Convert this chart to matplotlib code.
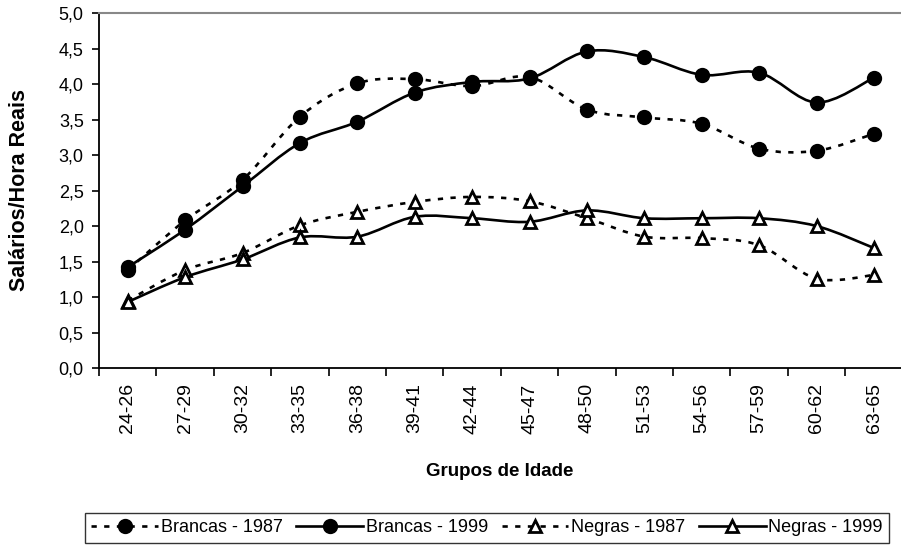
import numpy as np
import matplotlib
matplotlib.use("Agg")
import matplotlib.pyplot as plt
from matplotlib.path import Path
from matplotlib.patches import PathPatch
from matplotlib.lines import Line2D

plt.rcParams['font.family'] = ['Liberation Sans', 'DejaVu Sans']

grupos = ["24-26", "27-29", "30-32", "33-35", "36-38", "39-41", "42-44",
          "45-47", "48-50", "51-53", "54-56", "57-59", "60-62", "63-65"]
brancas_1987 = [1.38, 2.08, 2.65, 3.54, 4.01, 4.07, 3.97, 4.10, 3.64, 3.53, 3.44, 3.09, 3.06, 3.30]
brancas_1999 = [1.42, 1.95, 2.56, 3.17, 3.47, 3.88, 4.03, 4.08, 4.46, 4.38, 4.13, 4.16, 3.74, 4.09]
negras_1987 = [0.95, 1.38, 1.62, 2.01, 2.20, 2.34, 2.41, 2.35, 2.11, 1.85, 1.83, 1.73, 1.26, 1.31]
negras_1999 = [0.93, 1.28, 1.53, 1.84, 1.85, 2.13, 2.11, 2.06, 2.22, 2.11, 2.11, 2.11, 2.00, 1.69]


def smooth_path(x, y):
    # cubic bezier through every point (catmull-rom style tangents)
    p = np.column_stack([x, y]).astype(float)
    ext = np.vstack([p[0], p, p[-1]])
    verts = [p[0]]
    codes = [Path.MOVETO]
    for i in range(len(p) - 1):
        p0, p1, p2, p3 = ext[i], ext[i + 1], ext[i + 2], ext[i + 3]
        c1 = p1 + (p2 - p0) / 6.0
        c2 = p2 - (p3 - p1) / 6.0
        verts += [c1, c2, p2]
        codes += [Path.CURVE4] * 3
    return Path(verts, codes)


fig = plt.figure(figsize=(9.01, 5.46), dpi=100)
ax = fig.add_axes([0.1099, 0.326, 0.892, 0.65])

x = np.arange(len(grupos))
dotted = (0, (2.0, 2.8))
lw = 1.9
series = [
    (brancas_1987, dotted, 'o', 'black', "Brancas - 1987"),
    (brancas_1999, '-', 'o', 'black', "Brancas - 1999"),
    (negras_1987, dotted, '^', 'white', "Negras - 1987"),
    (negras_1999, '-', '^', 'white', "Negras - 1999"),
]
handles = []
for vals, ls, mk, fc, lab in series:
    patch = PathPatch(smooth_path(x, vals), facecolor='none', edgecolor='black',
                      linewidth=lw, linestyle=ls, zorder=2)
    ax.add_patch(patch)
    ax.plot(x, vals, linestyle='none', marker=mk, markersize=9,
            markerfacecolor=fc, markeredgecolor='black', markeredgewidth=2, zorder=3)
    handles.append(Line2D([], [], color='black', linewidth=lw, linestyle=ls, marker=mk,
                          markersize=9, markerfacecolor=fc, markeredgecolor='black',
                          markeredgewidth=2, label=lab))

ax.set_xlim(-0.5, len(grupos) - 0.5)
ax.set_ylim(0, 5)
yt = np.arange(0, 5.01, 0.5)
ax.set_yticks(yt)
ax.set_yticklabels([f"{v:.1f}".replace('.', ',') for v in yt], fontsize=13)
ax.set_xticks(x)
ax.set_xticklabels(grupos, rotation=90, fontsize=14)
ax.set_xticks(np.arange(-0.5, len(grupos), 1.0), minor=True)
ax.tick_params(axis='x', which='major', length=0, pad=11)
ax.tick_params(axis='x', which='minor', length=6, width=1.2, direction='out')
ax.tick_params(axis='y', length=5, width=1.2, direction='out', pad=6)

for side in ['left', 'bottom']:
    ax.spines[side].set_linewidth(1.3)
ax.spines['right'].set_visible(False)
ax.spines['top'].set_color('#888888')
ax.spines['top'].set_linewidth(1.5)

fig.text(500 / 901, 1 - 472 / 546, "Grupos de Idade", fontsize=13.5, fontweight='bold',
         ha='center', va='center')
fig.text(20 / 901, 1 - 190 / 546, "Salários/Hora Reais", fontsize=15.5, fontweight='bold',
         rotation=90, ha='center', va='center')

leg = fig.legend(handles=handles, loc='center', bbox_to_anchor=(487 / 901, 1 - 528 / 546),
                 ncol=4, fontsize=13, frameon=True, fancybox=False, edgecolor='black',
                 handlelength=3.7, columnspacing=0.75, handletextpad=0.15,
                 borderpad=0.35, borderaxespad=0)
leg.get_frame().set_linewidth(1.0)

fig.savefig("out.png", dpi=100)
